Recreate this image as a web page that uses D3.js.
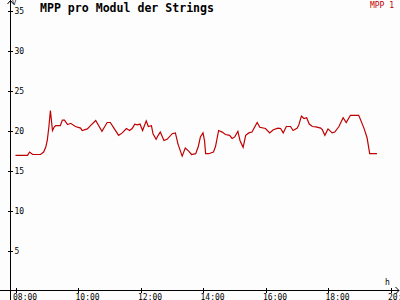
<!DOCTYPE html>
<html>
<head>
<meta charset="utf-8">
<script src="https://cdn.jsdelivr.net/npm/d3@7"></script>
<style>
  html, body { margin: 0; padding: 0; background: #fdfdfd; }
  svg { display: block; }
  text { font-family: "DejaVu Sans Mono", "Liberation Mono", monospace; }
</style>
</head>
<body>
<div id="chart"></div>
<script>
// Zeit in Minuten ab Mitternacht, Werte in V
const times = [480, 503, 507, 513, 528, 534, 538, 541, 544, 547, 551, 554, 557, 566, 570, 574, 580, 586, 595, 605,
  608, 618, 624, 634, 646, 656, 662, 669, 678, 685, 693, 699, 704, 709, 714, 719, 724, 731, 735, 741,
  744, 750, 754, 758, 765, 771, 781, 787, 792, 800, 806, 813, 818, 826, 831, 835, 840, 843, 845, 851,
  860, 864, 870, 877, 883, 891, 896, 901, 907, 911, 917, 922, 928, 934, 944, 949, 960, 968, 975, 984,
  989, 994, 1000, 1008, 1013, 1021, 1024, 1029, 1034, 1039, 1044, 1050, 1057, 1066, 1069, 1074, 1080, 1088, 1093, 1101,
  1109, 1115, 1123, 1139, 1149, 1155, 1160, 1174];
const mpp1 = [16.9, 16.9, 17.3, 17.0, 17.0, 17.3, 17.9, 18.75, 20.4, 22.5, 20.0, 20.4, 20.6, 20.6, 21.3, 21.3, 20.75, 20.9, 20.5, 20.3,
  20.0, 20.2, 20.6, 21.25, 19.9, 21.0, 21.0, 20.3, 19.4, 19.7, 20.25, 20.0, 20.25, 20.8, 20.7, 20.8, 20.0, 21.2, 20.5, 20.6,
  19.6, 18.9, 19.4, 19.8, 18.75, 18.9, 19.6, 19.7, 18.3, 16.8, 17.8, 17.4, 17.0, 17.1, 18.0, 19.2, 19.7, 18.7, 17.1, 17.1,
  17.3, 18.0, 20.0, 19.8, 19.5, 19.4, 19.0, 19.2, 19.9, 18.75, 17.9, 19.4, 19.7, 19.8, 21.0, 20.4, 20.25, 19.7, 20.1, 20.3,
  20.25, 19.7, 20.5, 20.5, 20.0, 20.3, 20.7, 21.8, 21.5, 21.6, 20.8, 20.5, 20.45, 20.3, 20.1, 19.4, 20.2, 19.7, 19.8, 20.5,
  21.6, 21.0, 21.9, 21.9, 20.3, 19.1, 17.1, 17.1];

const yTicks = [5, 10, 15, 20, 25, 30, 35];
const xTicks = [480, 600, 720, 840, 960, 1080, 1200];
const xTickLabels = ["08:00", "10:00", "12:00", "14:00", "16:00", "18:00", "20:00"];

const title = "MPP pro Modul der Strings";
const seriesName = "MPP 1";

const width = 400, height = 300;
const red = "#c00000";

const svg = d3.select("#chart").append("svg")
    .attr("width", width)
    .attr("height", height);

const x = d3.scaleLinear().domain([480, 1200]).range([15.5, 390.5]);
const y = d3.scaleLinear().domain([0, 35]).range([290.5, 10.5]);

// Achsen
const axisColor = "#000";
const axes = svg.append("g").attr("stroke", axisColor).attr("fill", "none").attr("shape-rendering", "crispEdges");
axes.append("line").attr("x1", 10.5).attr("x2", 10.5).attr("y1", 0).attr("y2", 300);
axes.append("line").attr("x1", 0).attr("x2", 399).attr("y1", 290.5).attr("y2", 290.5);
// Pfeile
svg.append("path").attr("d", "M7.5,4 L10.5,0.5 L13.5,4").attr("stroke", axisColor).attr("fill", "none");
svg.append("path").attr("d", "M395.5,287 L399,290.5 L395.5,294").attr("stroke", axisColor).attr("fill", "none");

const yAxis = svg.append("g")
    .attr("transform", "translate(10.5,0)")
    .call(d3.axisRight(y).tickValues(yTicks).tickSize(3).tickPadding(4).tickFormat(d3.format("d")));
yAxis.select(".domain").remove();
yAxis.selectAll(".tick line").attr("x1", -2.5).attr("x2", 2.5).attr("stroke", axisColor).attr("shape-rendering", "crispEdges");
yAxis.selectAll(".tick text").attr("x", 4).attr("font-size", 8).attr("fill", "#000")
    .style("font-family", "'DejaVu Sans Mono', monospace");

const xAxis = svg.append("g")
    .attr("transform", "translate(0,290.5)")
    .call(d3.axisBottom(x).tickValues(xTicks).tickSize(3).tickFormat((d, i) => xTickLabels[i]));
xAxis.select(".domain").remove();
xAxis.selectAll(".tick line").attr("y1", -2.5).attr("y2", 2.5).attr("stroke", axisColor).attr("shape-rendering", "crispEdges");
xAxis.selectAll(".tick text").attr("y", 9).attr("dy", 0).attr("x", -3)
    .attr("text-anchor", "start").attr("font-size", 8).attr("fill", "#000")
    .style("font-family", "'DejaVu Sans Mono', monospace");

// Einheiten
svg.append("text").attr("x", 12).attr("y", 5).attr("font-size", 7).text("V");
svg.append("text").attr("x", 385).attr("y", 285).attr("font-size", 8).text("h");

// Titel und Legende
svg.append("text").attr("x", 40).attr("y", 12)
    .attr("font-size", 11.5).attr("font-weight", "bold")
    .attr("textLength", 174).attr("lengthAdjust", "spacingAndGlyphs")
    .text(title);
svg.append("text").attr("x", 394).attr("y", 8)
    .attr("text-anchor", "end").attr("font-size", 8).attr("fill", red)
    .text(seriesName);

// Linie
const data = times.map((t, i) => ({ t: t, v: mpp1[i] }));
const line = d3.line().x(d => x(d.t)).y(d => y(d.v));
svg.append("path")
    .datum(data)
    .attr("d", line)
    .attr("fill", "none")
    .attr("stroke", red)
    .attr("stroke-width", 1.2);
</script>
</body>
</html>
